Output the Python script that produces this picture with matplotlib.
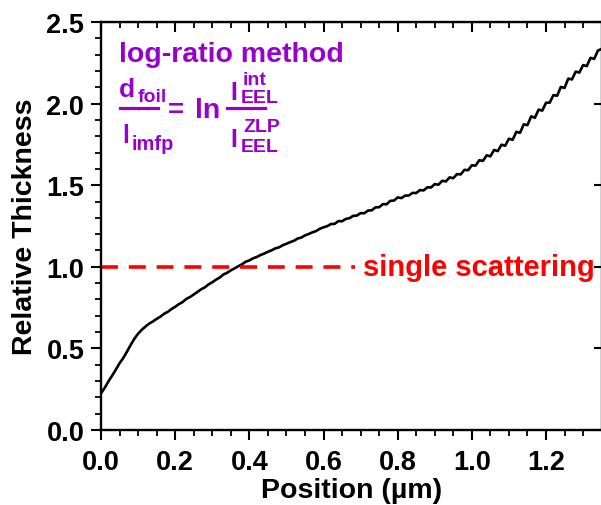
import numpy as np
import matplotlib
matplotlib.use('Agg')
import matplotlib.pyplot as plt
from matplotlib.ticker import MultipleLocator

plt.rcParams['font.family'] = ['Liberation Sans', 'DejaVu Sans']
plt.rcParams['font.weight'] = 'bold'

# relative thickness t/lambda along the line scan
position = [
    0.00, 0.01, 0.02, 0.03, 0.04, 0.05, 0.06, 0.07, 0.08, 0.09,
    0.10, 0.11, 0.12, 0.13, 0.14, 0.15, 0.16, 0.17, 0.18, 0.19,
    0.20, 0.21, 0.22, 0.23, 0.24, 0.25, 0.26, 0.27, 0.28, 0.29,
    0.30, 0.31, 0.32, 0.33, 0.34, 0.35, 0.36, 0.37, 0.38, 0.39,
    0.40, 0.41, 0.42, 0.43, 0.44, 0.45, 0.46, 0.47, 0.48, 0.49,
    0.50, 0.51, 0.52, 0.53, 0.54, 0.55, 0.56, 0.57, 0.58, 0.59,
    0.60, 0.61, 0.62, 0.63, 0.64, 0.65, 0.66, 0.67, 0.68, 0.69,
    0.70, 0.71, 0.72, 0.73, 0.74, 0.75, 0.76, 0.77, 0.78, 0.79,
    0.80, 0.81, 0.82, 0.83, 0.84, 0.85, 0.86, 0.87, 0.88, 0.89,
    0.90, 0.91, 0.92, 0.93, 0.94, 0.95, 0.96, 0.97, 0.98, 0.99,
    1.00, 1.01, 1.02, 1.03, 1.04, 1.05, 1.06, 1.07, 1.08, 1.09,
    1.10, 1.11, 1.12, 1.13, 1.14, 1.15, 1.16, 1.17, 1.18, 1.19,
    1.20, 1.21, 1.22, 1.23, 1.24, 1.25, 1.26, 1.27, 1.28, 1.29,
    1.30, 1.31, 1.32, 1.33, 1.34, 1.35,
]
thickness = [
    0.225, 0.258, 0.298, 0.333, 0.370, 0.409, 0.441, 0.480, 0.521, 0.559,
    0.590, 0.614, 0.634, 0.652, 0.665, 0.681, 0.694, 0.712, 0.724, 0.741,
    0.755, 0.771, 0.784, 0.803, 0.815, 0.830, 0.846, 0.862, 0.874, 0.892,
    0.905, 0.921, 0.934, 0.953, 0.963, 0.978, 0.990, 1.003, 1.015, 1.031,
    1.039, 1.052, 1.060, 1.072, 1.081, 1.092, 1.101, 1.113, 1.119, 1.132,
    1.141, 1.151, 1.159, 1.173, 1.179, 1.192, 1.201, 1.211, 1.219, 1.233,
    1.242, 1.249, 1.262, 1.263, 1.280, 1.279, 1.293, 1.298, 1.312, 1.314,
    1.329, 1.328, 1.345, 1.346, 1.364, 1.365, 1.384, 1.383, 1.404, 1.406,
    1.425, 1.421, 1.436, 1.437, 1.453, 1.452, 1.470, 1.468, 1.487, 1.486,
    1.507, 1.503, 1.527, 1.523, 1.548, 1.543, 1.568, 1.566, 1.594, 1.592,
    1.622, 1.620, 1.653, 1.649, 1.683, 1.677, 1.716, 1.709, 1.748, 1.742,
    1.785, 1.778, 1.827, 1.821, 1.873, 1.868, 1.922, 1.913, 1.963, 1.957,
    2.005, 2.006, 2.052, 2.048, 2.102, 2.096, 2.153, 2.148, 2.196, 2.190,
    2.236, 2.230, 2.280, 2.274, 2.325, 2.335,
]
single_level = 1.0
single_end = 0.685

purple = '#9900CC'
W, H = 601, 506

fig = plt.figure(figsize=(W / 100, H / 100), dpi=100)
ax = fig.add_axes([101 / W, 1 - 431 / H, 501 / W, 408 / H])

ax.plot(position, thickness, color='black', lw=1.9)
ax.plot([0, single_end], [single_level, single_level], color='red', lw=2.6,
        dashes=(4.7, 3.0), solid_capstyle='butt', dash_capstyle='butt')
ax.text(0.706, single_level, 'single scattering', color='red', fontsize=21,
        fontweight='bold', va='center', ha='left')

ax.set_xlim(0, 1.351)
ax.set_ylim(0, 2.5)
ax.xaxis.set_major_locator(MultipleLocator(0.2))
ax.xaxis.set_minor_locator(MultipleLocator(0.05))
ax.yaxis.set_major_locator(MultipleLocator(0.5))
ax.yaxis.set_minor_locator(MultipleLocator(0.1))
ax.xaxis.set_major_formatter(lambda v, p: f'{v:.1f}')
ax.yaxis.set_major_formatter(lambda v, p: f'{v:.1f}')

for s in ax.spines.values():
    s.set_linewidth(1.7)

ax.tick_params(axis='both', which='major', direction='out', length=7, width=1.5,
               labelsize=19.5, pad=5)
ax.tick_params(axis='both', which='minor', direction='out', length=4, width=1.3)
ax.tick_params(axis='x', which='major', pad=7)

# top ticks point inwards, right axis has only inward majors
ax2 = ax.secondary_xaxis('top')
ax2.xaxis.set_major_locator(MultipleLocator(0.2))
ax2.xaxis.set_minor_locator(MultipleLocator(0.05))
ax2.tick_params(which='major', direction='in', length=7, width=1.5, labeltop=False)
ax2.tick_params(which='minor', direction='in', length=4, width=1.3)
ax3 = ax.secondary_yaxis('right')
ax3.yaxis.set_major_locator(MultipleLocator(0.5))
ax3.tick_params(which='major', direction='in', length=6, width=1.5, labelright=False)
ax3.tick_params(which='minor', length=0)

ax.set_xlabel('Position (µm)', fontsize=20.5, fontweight='bold', labelpad=1)
ax.set_ylabel('Relative Thickness', fontsize=20.5, fontweight='bold', labelpad=6)


def px(x, y):
    return x / W, 1 - y / H


def put(x, y, s, size, **kw):
    fig.text(*px(x, y), s, color=purple, fontsize=size, fontweight='bold',
             ha='left', va='baseline', **kw)


def bar(x0, x1, y):
    fig.add_artist(plt.Line2D([x0 / W, x1 / W], [1 - y / H, 1 - y / H],
                              color=purple, lw=2.3, transform=fig.transFigure))


put(119, 62, 'log-ratio method', 20.5)
put(119, 97, 'd', 19)
put(138, 102, 'foil', 14)
bar(120, 158, 109)
put(122, 143, 'l', 18)
put(132, 150, 'imfp', 14.5)
put(168, 118, '=', 20)
put(195, 118, 'ln', 20.5)
bar(227, 265, 109)
put(230, 100, 'I', 18)
put(243, 85, 'int', 14)
put(241, 103, 'EEL', 14)
put(230, 147, 'I', 18)
put(243, 132, 'ZLP', 14)
put(241, 152, 'EEL', 14)

fig.savefig('out.png', dpi=100)
